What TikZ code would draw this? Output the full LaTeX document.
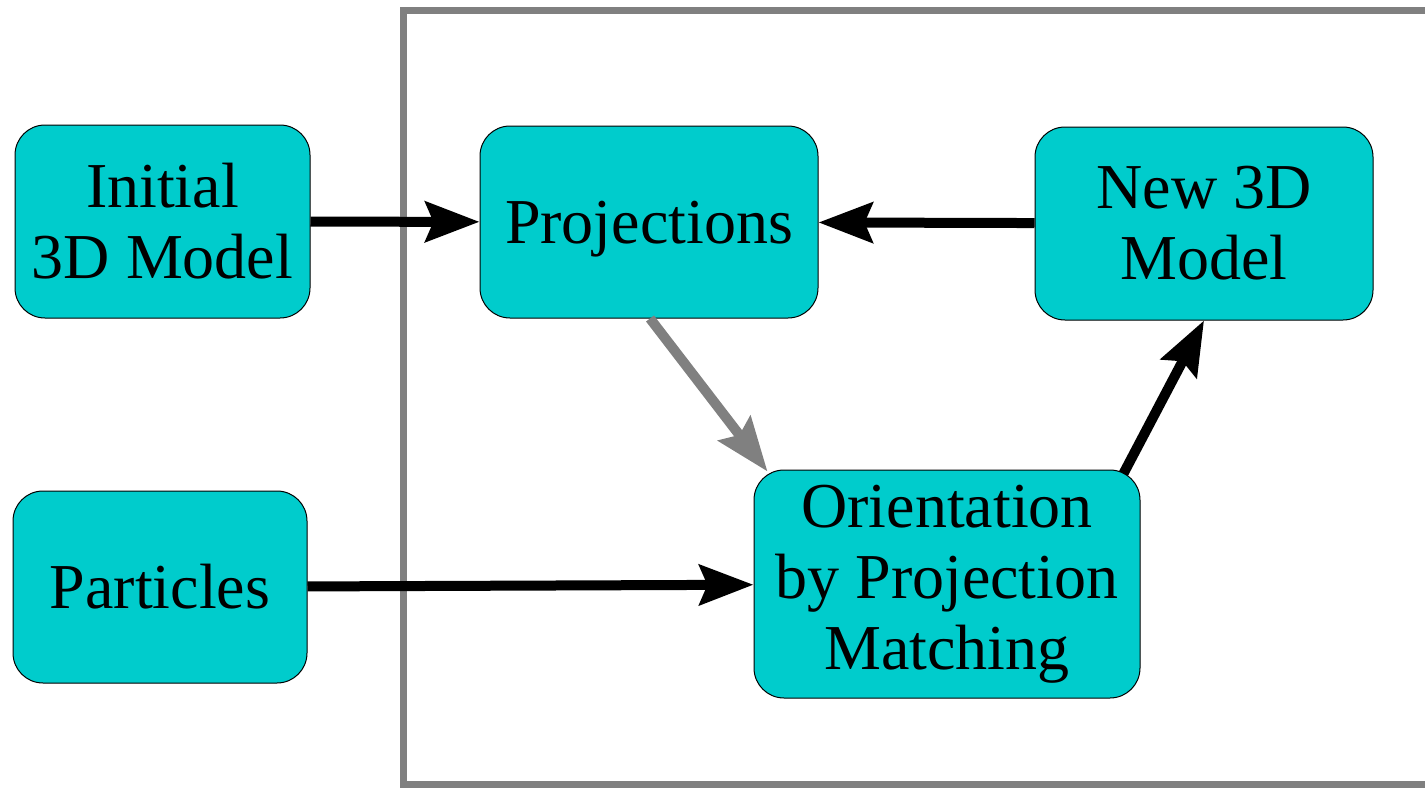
\documentclass[tikz,border=0pt]{standalone}
\usepackage{fontspec}
\setmainfont{Liberation Serif}
\usetikzlibrary{arrows.meta}
\definecolor{boxcyan}{RGB}{0,204,204}
\definecolor{framegray}{RGB}{128,128,128}

\begin{document}
\begin{tikzpicture}
        [%%%%%%%%%%%%%%%%%%%%%%%%%%%%%%
        x=0.5pt, y=-0.5pt,
        stage/.style={draw=black, line width=0.5pt, fill=boxcyan, rounded corners=15pt,
          align=center, inner sep=2pt,
          font=\fontsize{32}{35.5}\selectfont},
        flow/.style={line width=5pt, -{Stealth[length=27pt,width=20pt,inset=4pt]}},
        ]%%%%%%%%%%%%%%%%%%%%%%%%%%%%%%
        \useasboundingbox (0,0) rectangle (1425,788);
        % Iteration frame, open to the right
        \draw[framegray, line width=3.5pt] (403.5,10.5) rectangle (1460,784.5);
        % Stages
        \node[stage, minimum width=147.5pt, minimum height=96.5pt] (init) at (162.5,221.5) {Initial\\3D Model};
        \node[stage, minimum width=147pt, minimum height=96pt] (particles) at (160,587) {Particles};
        \node[stage, minimum width=169pt, minimum height=96pt, text height=24pt, text depth=3pt] (proj) at (649,222) {Projections};
        \node[stage, minimum width=169pt, minimum height=96.5pt] (newmodel) at (1204,223.5) {New 3D\\Model};
        \node[stage, minimum width=193pt, minimum height=114pt] (orient) at (947,584) {Orientation\\by Projection\\Matching};
        % Arrows
        \draw[flow] (init) -- (proj);
        \draw[flow] (newmodel) -- (proj);
        \draw[flow] (particles) -- (orient);
        \draw[flow, framegray] ([xshift=0.5pt]proj.south) -- ([xshift=7pt,yshift=-1pt]orient.north west);
        \draw[flow] ([xshift=-8.5pt,yshift=-2pt]orient.north east) -- (newmodel.south);
      \end{tikzpicture}
\end{document}
